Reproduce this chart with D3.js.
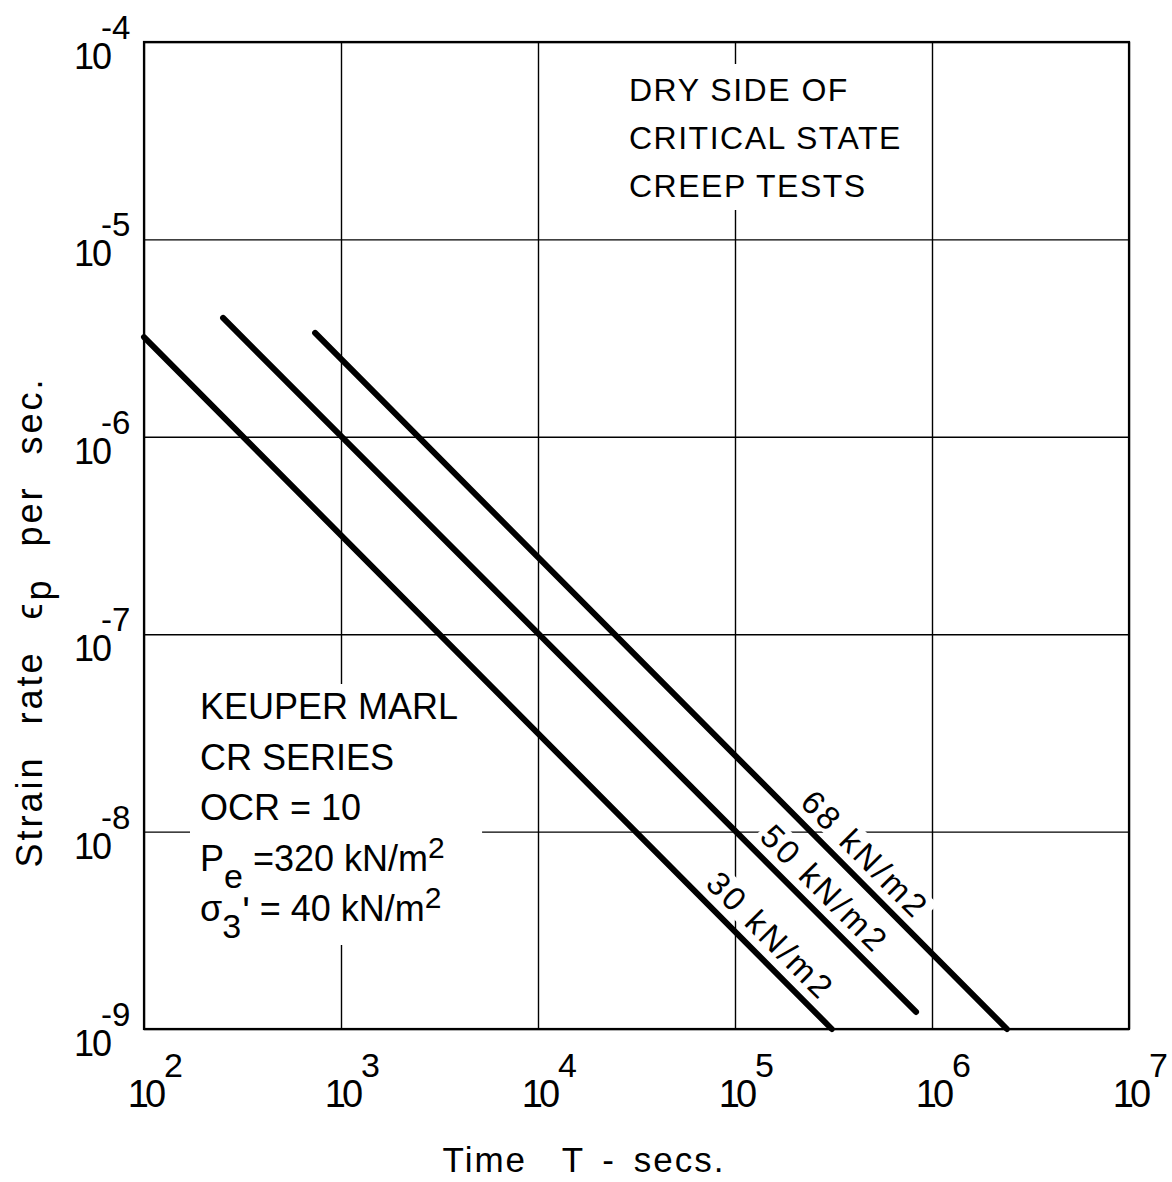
<!DOCTYPE html>
<html>
<head>
<meta charset="utf-8">
<script src="https://cdn.jsdelivr.net/npm/d3@7"></script>
<style>
  html, body { margin: 0; padding: 0; background: #fff; }
  svg text { font-family: "Liberation Sans", "DejaVu Sans", sans-serif; fill: #000; }
</style>
</head>
<body>
<svg id="chart" width="1172" height="1182"></svg>
<script>
// Creep tests on Keuper Marl: plastic strain rate against time, one straight
// log-log segment for each deviator stress level.
const seriesLabels = ["30 kN/m2", "50 kN/m2", "68 kN/m2"];
const seriesTimes  = [[100, 3.1e5], [252, 8.3e5], [739, 2.4e6]];     // secs
const seriesRates  = [[3.2e-6, 1e-9], [4.0e-6, 1.22e-9], [3.36e-6, 1e-9]]; // per sec
const labelTimes   = [1.26e5, 2.37e5, 3.8e5];   // where each label sits along its line

const xTickExponents = [2, 3, 4, 5, 6, 7];
const yTickExponents = [-4, -5, -6, -7, -8, -9];

const noteTopLines = ["DRY SIDE OF", "CRITICAL STATE", "CREEP TESTS"];
// each line: list of [text, role]  (role: "" normal, "sub", "sup", "prime", "back")
const noteLeftLines = [
  [["KEUPER MARL", ""]],
  [["CR SERIES", ""]],
  [["OCR = 10", ""]],
  [["P", ""], ["e", "sub"], [" =320 kN/m", "back"], ["2", "sup"]],
  [["σ", ""], ["3", "sub"], ["ʹ", "prime"], [" = 40 kN/m", "back"], ["2", "sup"]]
];

const xTitle = "Time  T - secs.";

const svg = d3.select("#chart");
const plotL = 144, plotR = 1129, plotT = 42, plotB = 1029;

const x = d3.scaleLog().domain([1e2, 1e7]).range([plotL, plotR]);
const y = d3.scaleLog().domain([1e-4, 1e-9]).range([plotT, plotB]);

// ---- decade grid ----
const xGrid = svg.append("g")
  .attr("transform", `translate(0,${plotB})`)
  .call(d3.axisBottom(x).tickValues(xTickExponents.map(e => Math.pow(10, e)))
    .tickSize(-(plotB - plotT)).tickFormat(""));
const yGrid = svg.append("g")
  .attr("transform", `translate(${plotL},0)`)
  .call(d3.axisLeft(y).tickValues(yTickExponents.map(e => Math.pow(10, e)))
    .tickSize(-(plotR - plotL)).tickFormat(""));
[xGrid, yGrid].forEach(g => {
  g.select(".domain").remove();
  g.selectAll(".tick line").attr("stroke", "#000").attr("stroke-width", 1.4);
});

// ---- annotation blocks (white backing interrupts the grid) ----
const noteLayer = svg.append("g");

const topNote = noteLayer.append("g");
const topText = topNote.append("text")
  .attr("font-size", 32).attr("letter-spacing", 1.5);
topText.selectAll("tspan").data(noteTopLines).join("tspan")
  .attr("x", 629).attr("y", (d, i) => 101 + i * 48).text(d => d);

const leftNote = noteLayer.append("g");
const leftText = leftNote.append("text").attr("font-size", 36);
noteLeftLines.forEach((parts, i) => {
  const baseY = 719 + i * 50.5;
  parts.forEach((p, j) => {
    const ts = leftText.append("tspan").text(p[0]);
    if (j === 0) ts.attr("x", 200).attr("y", baseY);
    if (p[1] === "sub") ts.attr("dy", 17).attr("font-size", 34);
    if (p[1] === "prime") ts.attr("y", baseY + 4).attr("font-size", 40).attr("dx", 1);
    if (p[1] === "back") ts.attr("y", baseY);
    if (p[1] === "sup") ts.attr("dy", -13).attr("font-size", 30);
  });
});

function backing(group, pad) {
  const b = group.node().getBBox();
  group.insert("rect", ":first-child")
    .attr("x", b.x - pad[0]).attr("y", b.y - pad[1])
    .attr("width", b.width + pad[0] + pad[2])
    .attr("height", b.height + pad[1] + pad[3])
    .attr("fill", "#fff");
}
backing(topNote, [10, 8, 6, 6]);
backing(leftNote, [10, 2, 24, 0]);

// ---- frame ----
svg.append("rect")
  .attr("x", plotL).attr("y", plotT)
  .attr("width", plotR - plotL).attr("height", plotB - plotT)
  .attr("fill", "none").attr("stroke", "#000").attr("stroke-width", 2.2);

// ---- creep lines ----
const series = seriesLabels.map((label, i) => ({
  label,
  points: seriesTimes[i].map((t, k) => [t, seriesRates[i][k]]),
  labelT: labelTimes[i]
}));

const line = d3.line().x(d => x(d[0])).y(d => y(d[1]));

// labels along the lines, with a white backing box
const labelLayer = svg.append("g");
series.forEach(s => {
  const [p0, p1] = s.points;
  const ang = Math.atan2(y(p1[1]) - y(p0[1]), x(p1[0]) - x(p0[0]));
  const slope = Math.log(p1[1] / p0[1]) / Math.log(p1[0] / p0[0]);
  const rAt = p0[1] * Math.pow(s.labelT / p0[0], slope);
  const g = labelLayer.append("g")
    .attr("transform", `translate(${x(s.labelT)},${y(rAt)}) rotate(${ang * 180 / Math.PI})`);
  const t = g.append("text")
    .attr("text-anchor", "middle").attr("y", -11)
    .attr("font-size", 33).attr("letter-spacing", 3)
    .text(s.label);
  const b = t.node().getBBox();
  g.insert("rect", "text")
    .attr("x", b.x - 4).attr("y", b.y + 2)
    .attr("width", b.width + 8).attr("height", b.height - 6)
    .attr("fill", "#fff");
});

svg.append("g").selectAll("path").data(series).join("path")
  .attr("d", d => line(d.points))
  .attr("fill", "none").attr("stroke", "#000")
  .attr("stroke-width", 6).attr("stroke-linecap", "round");

// ---- tick labels: 10 with exponent ----
const xLab = svg.append("g");
xTickExponents.forEach(e => {
  const px = x(Math.pow(10, e));
  xLab.append("text").attr("x", px + 1).attr("y", 1107)
    .attr("text-anchor", "middle").attr("font-size", 38).attr("letter-spacing", -4)
    .text("10");
  xLab.append("text").attr("x", px + 20).attr("y", 1077)
    .attr("font-size", 34).text(e);
});

const yLab = svg.append("g");
yTickExponents.forEach(e => {
  const py = y(Math.pow(10, e));
  yLab.append("text").attr("x", 110).attr("y", py + 27)
    .attr("text-anchor", "end").attr("font-size", 36).attr("letter-spacing", -2)
    .text("10");
  yLab.append("text").attr("x", 101).attr("y", py - 3)
    .attr("font-size", 33).text("-" + Math.abs(e));
});

// ---- axis titles ----
svg.append("text")
  .attr("x", 584).attr("y", 1172)
  .attr("text-anchor", "middle").attr("font-size", 35)
  .attr("letter-spacing", 2).attr("word-spacing", 6)
  .style("white-space", "pre")
  .text(xTitle);

const yTitle = svg.append("text")
  .attr("transform", "translate(42,622) rotate(-90)")
  .attr("text-anchor", "middle").attr("font-size", 36)
  .attr("letter-spacing", 3).attr("word-spacing", 18);
yTitle.append("tspan").text("Strain rate ϵ");
yTitle.append("tspan").attr("dy", 9).text("p");
yTitle.append("tspan").attr("dy", -9).text(" per sec.");
</script>
</body>
</html>
